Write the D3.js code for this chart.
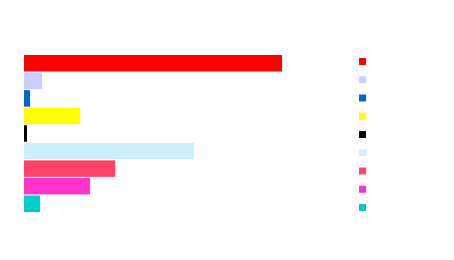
<!DOCTYPE html>
<html>
<head>
<meta charset="utf-8">
<script src="https://cdn.jsdelivr.net/npm/d3@7"></script>
<style>
  html, body { margin: 0; padding: 0; background: #fff; }
  svg { display: block; }
</style>
</head>
<body>
<svg id="chart"></svg>
<script>
// Data — the reference has no labels, so categories are just keys
const categories = ['A', 'B', 'C', 'D', 'E', 'F', 'G', 'H', 'I'];
const values     = [258, 18, 6, 56, 3, 170, 91, 66, 16];
const colors     = ['#ff0000', '#ccccff', '#0066cc', '#ffff00', '#000000',
                    '#cceeff', '#ff4466', '#ff33cc', '#00cccc'];

const W = 454, H = 260;
const svg = d3.select('#chart').attr('width', W).attr('height', H);

// Bars
const x = d3.scaleLinear()
    .domain([0, d3.max(values)])
    .range([24, 282]);

const y = d3.scaleBand()
    .domain(categories)
    .range([55, 212])
    .paddingInner(0.06);

svg.selectAll('.bar')
    .data(categories)
    .enter()
    .append('rect')
    .attr('class', 'bar')
    .attr('x', x(0))
    .attr('y', d => y(d))
    .attr('width', (d, i) => x(values[i]) - x(0))
    .attr('height', y.bandwidth())
    .attr('fill', (d, i) => colors[i]);

// Legend swatches
const ly = d3.scalePoint()
    .domain(categories)
    .range([58, 204]);

svg.selectAll('.swatch')
    .data(categories)
    .enter()
    .append('rect')
    .attr('class', 'swatch')
    .attr('x', 359)
    .attr('y', d => ly(d))
    .attr('width', 7)
    .attr('height', 7)
    .attr('fill', (d, i) => colors[i]);
</script>
</body>
</html>
